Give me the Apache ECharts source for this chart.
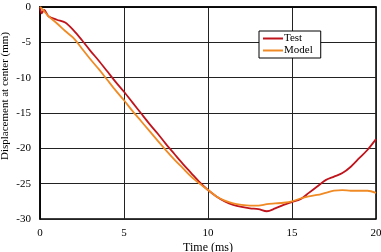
<!DOCTYPE html>
<html>
<head>
<meta charset="utf-8">
<script src="https://cdn.jsdelivr.net/npm/echarts@6/dist/echarts.min.js"></script>
<style>
  html, body { margin: 0; padding: 0; background: #fff; }
  #chart { width: 381px; height: 252px; }
</style>
</head>
<body>
<div id="chart"></div>
<script>
// time (ms)
const times = [0, 0.1, 0.25, 0.5, 1, 1.5, 2, 2.5, 3, 3.5, 4, 4.5, 5, 5.5, 6, 6.5, 7, 7.5, 8, 8.5, 9, 9.5, 10,
  10.5, 11, 11.5, 12, 12.5, 13, 13.5, 14, 14.5, 15, 15.5, 16, 16.5, 17, 17.5, 18, 18.5, 19, 19.5, 20];
// displacement at center (mm)
const testVals = [0, -0.9, -0.4, -1.3, -1.8, -2.2, -3.3, -4.7, -6.2, -7.6, -9.1, -10.6, -12.0, -13.5, -15.0, -16.5,
  -17.9, -19.4, -20.8, -22.2, -23.5, -24.8, -25.9, -26.8, -27.5, -28.0, -28.3, -28.5, -28.6, -28.9, -28.5, -28.0,
  -27.6, -27.2, -26.3, -25.4, -24.5, -24.0, -23.5, -22.6, -21.4, -20.2, -18.7];
const modelVals = [0, -0.2, -0.6, -1.3, -2.3, -3.4, -4.4, -5.9, -7.4, -8.8, -10.3, -11.8, -13.2, -14.7, -16.1, -17.5,
  -18.9, -20.3, -21.6, -22.8, -24.0, -25.0, -25.9, -26.8, -27.4, -27.8, -28.0, -28.1, -28.1, -27.9, -27.8, -27.7,
  -27.5, -27.1, -26.8, -26.6, -26.3, -26.0, -25.9, -26.0, -26.0, -26.0, -26.3];
const xTicks = [0, 5, 10, 15, 20];
const yTicks = [0, -5, -10, -15, -20, -25, -30];

const font = '"Liberation Serif", "Times New Roman", serif';
const pairs = vals => times.map((t, i) => [t, vals[i]]);

const chart = echarts.init(document.getElementById('chart'), null, { renderer: 'canvas' });
chart.setOption({
  animation: false,
  backgroundColor: '#fff',
  grid: {
    left: 40, right: 5, top: 7, bottom: 33,
    outerBoundsMode: 'none',
    containLabel: false,
    show: true, borderColor: '#000', borderWidth: 1.5
  },
  legend: {
    orient: 'vertical',
    left: 259, top: 31,
    padding: [2, 8, 2, 4],
    itemGap: 1,
    itemWidth: 20, itemHeight: 2,
    icon: 'rect',
    borderColor: '#000', borderWidth: 1,
    backgroundColor: '#fff',
    textStyle: { fontFamily: font, fontSize: 11, color: '#000', padding: [0, 0, 0, -4] },
    data: ['Test', 'Model']
  },
  xAxis: {
    type: 'value',
    min: xTicks[0], max: xTicks[xTicks.length - 1], interval: 5,
    name: 'Time (ms)', nameLocation: 'middle', nameGap: 23,
    nameMoveOverlap: false,
    nameTextStyle: { fontFamily: font, fontSize: 12, color: '#000' },
    axisLine: { lineStyle: { color: '#000', width: 1.5 } },
    axisTick: { show: false },
    axisLabel: { fontFamily: font, fontSize: 11, color: '#000', margin: 9 },
    splitLine: { lineStyle: { color: '#222', width: 1 } }
  },
  yAxis: {
    type: 'value',
    min: yTicks[yTicks.length - 1], max: yTicks[0], interval: 5,
    name: 'Displacement at center (mm)', nameLocation: 'middle', nameGap: 29,
    nameMoveOverlap: false,
    nameTextStyle: { fontFamily: font, fontSize: 11, color: '#000', padding: [0, 0, 0, 34] },
    axisLine: { show: true, lineStyle: { color: '#000', width: 1.5 } },
    axisTick: { show: false },
    axisLabel: { fontFamily: font, fontSize: 11, color: '#000', margin: 9 },
    splitLine: { lineStyle: { color: '#222', width: 1 } }
  },
  series: [
    {
      name: 'Test', type: 'line', data: pairs(testVals),
      showSymbol: false, smooth: 0.3,
      lineStyle: { color: '#c0141c', width: 1.8 },
      itemStyle: { color: '#c0141c' }
    },
    {
      name: 'Model', type: 'line', data: pairs(modelVals),
      showSymbol: false, smooth: 0.3,
      lineStyle: { color: '#f08a24', width: 1.8 },
      itemStyle: { color: '#f08a24' }
    }
  ]
});
</script>
</body>
</html>
